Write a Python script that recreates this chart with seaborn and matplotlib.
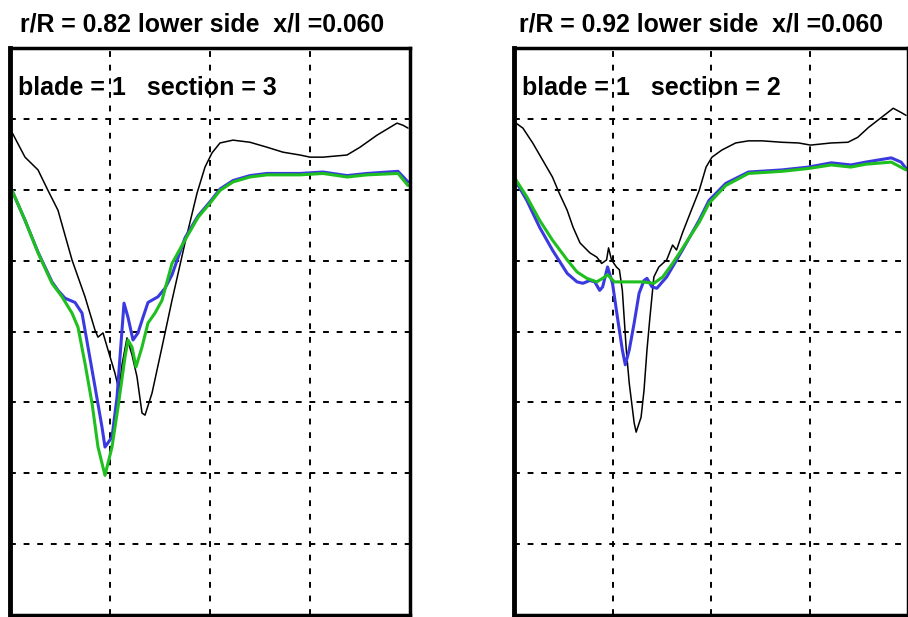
import matplotlib
matplotlib.use("Agg")
import matplotlib.pyplot as plt
import seaborn as sns

# values (x: 4 grid divisions, y: 8 grid divisions)
left_black_x = [0.02, 0.15, 0.28, 0.38, 0.48, 0.62, 0.75, 0.85, 0.88, 0.93, 0.98, 1.05, 1.09,
                1.12, 1.17, 1.22, 1.27, 1.32, 1.35, 1.42, 1.52, 1.62, 1.75, 1.87, 1.95, 2.02,
                2.10, 2.23, 2.40, 2.57, 2.73, 2.90, 3.00, 3.13, 3.37, 3.50, 3.67, 3.87, 3.93, 3.98]
left_black_y = [6.81, 6.46, 6.28, 5.99, 5.71, 5.01, 4.49, 4.02, 3.92, 3.98, 3.74, 3.41, 3.17,
                3.53, 3.91, 3.67, 3.36, 2.85, 2.82, 3.13, 3.78, 4.44, 5.25, 5.95, 6.32, 6.52,
                6.66, 6.70, 6.67, 6.60, 6.53, 6.49, 6.46, 6.46, 6.49, 6.60, 6.77, 6.94, 6.91, 6.87]

left_blue_x = [0.02, 0.15, 0.28, 0.42, 0.48, 0.55, 0.65, 0.72, 0.78, 0.85, 0.92, 0.95, 1.02,
               1.07, 1.12, 1.14, 1.18, 1.23, 1.28, 1.33, 1.38, 1.48, 1.55, 1.62, 1.75, 1.88,
               2.00, 2.10, 2.23, 2.40, 2.57, 2.90, 3.13, 3.37, 3.57, 3.88, 3.98]
left_blue_y = [5.99, 5.57, 5.12, 4.70, 4.58, 4.47, 4.41, 4.26, 3.78, 3.22, 2.65, 2.37, 2.51,
               3.07, 4.02, 4.40, 4.20, 3.88, 3.98, 4.20, 4.41, 4.49, 4.61, 4.80, 5.32, 5.63,
               5.83, 6.01, 6.13, 6.20, 6.23, 6.23, 6.25, 6.20, 6.23, 6.26, 6.11]

left_green_x = [0.02, 0.15, 0.28, 0.42, 0.52, 0.62, 0.68, 0.75, 0.82, 0.88, 0.95, 1.02, 1.08,
                1.15, 1.18, 1.22, 1.26, 1.32, 1.38, 1.45, 1.52, 1.62, 1.75, 1.88, 2.00, 2.10,
                2.23, 2.40, 2.57, 2.90, 3.13, 3.37, 3.57, 3.88, 3.98]
left_green_y = [5.99, 5.57, 5.11, 4.68, 4.49, 4.26, 4.06, 3.55, 2.99, 2.37, 1.97, 2.37, 2.93,
                3.64, 3.88, 3.78, 3.50, 3.78, 4.12, 4.26, 4.44, 4.96, 5.29, 5.61, 5.81, 5.99,
                6.11, 6.18, 6.21, 6.21, 6.23, 6.18, 6.21, 6.23, 6.06]

right_black_x = [0.01, 0.09, 0.19, 0.29, 0.39, 0.46, 0.54, 0.60, 0.67, 0.77, 0.84, 0.89, 0.94,
                 0.96, 0.99, 1.04, 1.07, 1.10, 1.14, 1.17, 1.22, 1.24, 1.29, 1.32, 1.35, 1.38,
                 1.42, 1.47, 1.55, 1.61, 1.65, 1.71, 1.80, 1.88, 1.95, 2.01, 2.11, 2.25, 2.38,
                 2.52, 2.72, 2.89, 3.01, 3.22, 3.39, 3.49, 3.60, 3.73, 3.85, 3.93, 3.98]
right_black_y = [6.95, 6.87, 6.66, 6.42, 6.18, 5.95, 5.71, 5.47, 5.25, 5.11, 5.05, 4.96, 5.01,
                 5.18, 5.01, 4.91, 4.87, 4.58, 3.74, 3.27, 2.71, 2.58, 2.79, 3.17, 3.74, 4.20,
                 4.77, 4.91, 5.01, 5.22, 5.15, 5.39, 5.71, 5.99, 6.32, 6.46, 6.56, 6.66, 6.69,
                 6.69, 6.67, 6.66, 6.63, 6.66, 6.67, 6.74, 6.88, 7.02, 7.15, 7.09, 7.05]

right_blue_x = [0.01, 0.13, 0.26, 0.39, 0.54, 0.64, 0.70, 0.77, 0.82, 0.87, 0.90, 0.95, 1.00,
                1.05, 1.10, 1.13, 1.17, 1.22, 1.27, 1.32, 1.35, 1.40, 1.45, 1.55, 1.63, 1.71,
                1.88, 1.98, 2.15, 2.38, 2.72, 2.99, 3.22, 3.42, 3.57, 3.83, 3.93, 3.98]
right_blue_y = [6.14, 5.85, 5.47, 5.15, 4.82, 4.70, 4.68, 4.72, 4.70, 4.58, 4.63, 4.91, 4.68,
                4.20, 3.74, 3.53, 3.74, 4.12, 4.54, 4.72, 4.75, 4.63, 4.61, 4.77, 4.96, 5.15,
                5.57, 5.85, 6.09, 6.25, 6.28, 6.32, 6.38, 6.35, 6.39, 6.45, 6.39, 6.30]

right_green_x = [0.01, 0.13, 0.26, 0.39, 0.54, 0.64, 0.74, 0.84, 0.90, 0.95, 1.02, 1.14, 1.30,
                 1.42, 1.51, 1.61, 1.70, 1.81, 1.88, 1.98, 2.15, 2.38, 2.72, 2.99, 3.22, 3.42,
                 3.57, 3.83, 3.98]
right_green_y = [6.16, 5.90, 5.57, 5.29, 5.01, 4.84, 4.75, 4.70, 4.75, 4.80, 4.70, 4.70, 4.70,
                 4.68, 4.77, 4.96, 5.15, 5.39, 5.54, 5.81, 6.06, 6.23, 6.26, 6.30, 6.35, 6.32,
                 6.36, 6.39, 6.28]

titles = ["r/R = 0.82 lower side  x/l =0.060", "r/R = 0.92 lower side  x/l =0.060"]
labels = ["blade = 1   section = 3", "blade = 1   section = 2"]

sns.set_style("white")
plt.rcParams["font.family"] = ["Liberation Sans", "DejaVu Sans"]
plt.rcParams["text.color"] = "black"

fig = plt.figure(figsize=(9.08, 6.17), dpi=100)
ax1 = fig.add_axes([10 / 908, 2 / 617, 400 / 908, 567 / 617])
ax2 = fig.add_axes([514 / 908, 2 / 617, 394 / 908, 567 / 617])

panels = [
    (ax1, left_black_x, left_black_y, left_blue_x, left_blue_y, left_green_x, left_green_y),
    (ax2, right_black_x, right_black_y, right_blue_x, right_blue_y, right_green_x, right_green_y),
]

for i, (ax, bx, by, ux, uy, gx, gy) in enumerate(panels):
    sns.lineplot(x=bx, y=by, ax=ax, color="black", linewidth=1.1, sort=False, estimator=None)
    sns.lineplot(x=ux, y=uy, ax=ax, color="#3a3ae0", linewidth=2.2, sort=False, estimator=None)
    sns.lineplot(x=gx, y=gy, ax=ax, color="#1fbf1f", linewidth=2.2, sort=False, estimator=None)
    ax.set_xlim(0, 4)
    ax.set_ylim(0, 8)
    ax.set_xticks([1, 2, 3])
    ax.set_yticks([1, 2, 3, 4, 5, 6, 7])
    ax.grid(True, color="black", linestyle=(0, (3, 4)), linewidth=1.4)
    ax.tick_params(length=0, labelbottom=False, labelleft=False)
    for side in ax.spines.values():
        side.set_color("black")
        side.set_linewidth(2.5)
    ax.spines["left"].set_linewidth(3.5)
    ax.text(0.02, 0.93, labels[i], transform=ax.transAxes, fontsize=18,
            fontweight="bold", color="black", va="center", ha="left")

fig.text(20 / 908, 1 - 24 / 617, titles[0], fontsize=17.9, fontweight="bold",
         color="black", va="center", ha="left")
fig.text(519 / 908, 1 - 24 / 617, titles[1], fontsize=17.9, fontweight="bold",
         color="black", va="center", ha="left")

fig.savefig("out.png", dpi=100)
